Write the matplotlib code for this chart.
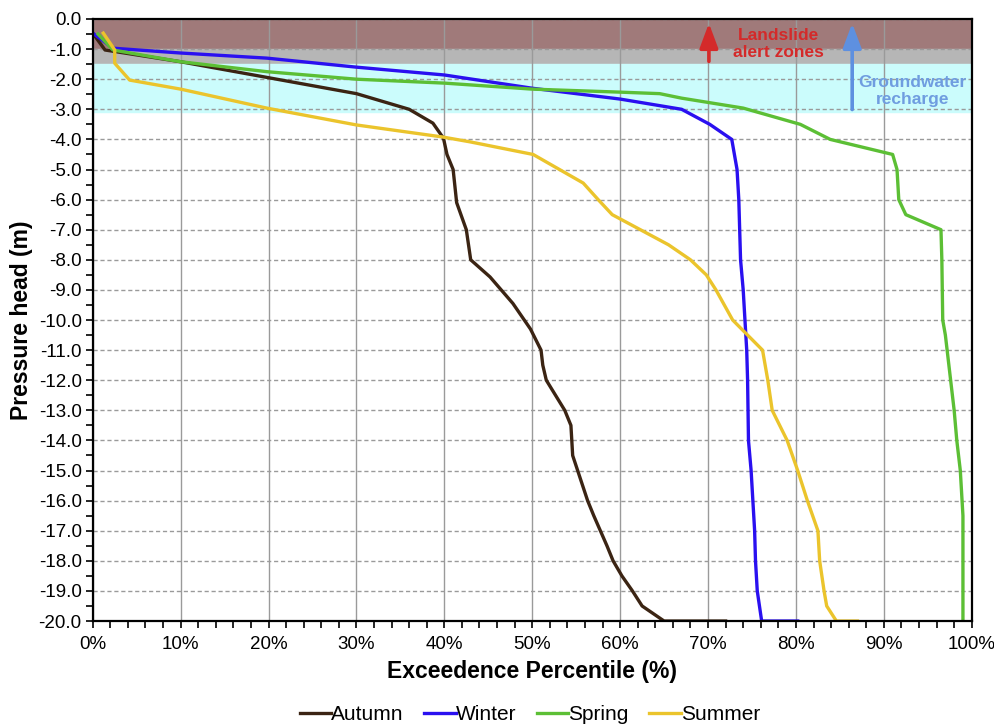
import matplotlib.pyplot as plt
from matplotlib.ticker import MultipleLocator, FuncFormatter

plt.rcParams['font.family'] = ['Liberation Sans', 'DejaVu Sans']

# exceedence percentile (%) vs pressure head (m)
autumn_x = [0.0, 1.4, 10.0, 19.8, 30.0, 36.0, 38.7, 39.9, 40.3, 41.0, 41.4, 42.5, 43.0,
            45.2, 47.8, 49.8, 51.0, 51.2, 51.6, 53.7, 54.4, 54.6, 56.3, 57.0, 58.5, 59.2,
            60.2, 61.4, 62.5, 65.0, 72.0]
autumn_y = [-0.47, -1.03, -1.42, -1.94, -2.48, -3.0, -3.46, -3.96, -4.5, -5.0, -6.1, -7.0,
            -8.0, -8.57, -9.45, -10.3, -11.0, -11.5, -12.0, -13.0, -13.5, -14.5, -16.0,
            -16.5, -17.5, -18.0, -18.5, -19.0, -19.5, -20.0, -20.0]

winter_x = [0.0, 2.3, 10.0, 19.8, 30.0, 40.0, 50.0, 60.0, 67.0, 70.2, 72.7, 73.3, 73.5,
            73.7, 74.0, 74.2, 74.4, 74.5, 74.6, 74.9, 75.1, 75.3, 75.4, 75.6, 76.1, 80.2]
winter_y = [-0.47, -0.97, -1.13, -1.3, -1.6, -1.86, -2.3, -2.66, -3.0, -3.5, -4.0, -5.0,
            -6.0, -8.0, -9.0, -10.0, -11.0, -12.0, -14.0, -15.0, -16.0, -17.0, -18.0,
            -19.0, -20.0, -20.0]

spring_x = [0.6, 2.3, 10.0, 19.8, 30.0, 40.0, 50.0, 60.0, 64.5, 67.0, 74.0, 80.5, 83.9,
            91.0, 91.5, 91.7, 92.5, 96.5, 96.6, 96.7, 97.0, 97.4, 97.8, 98.0, 98.3, 98.7,
            99.0, 99.0]
spring_y = [-0.5, -1.03, -1.42, -1.75, -2.0, -2.13, -2.33, -2.43, -2.48, -2.63, -2.96,
            -3.5, -4.0, -4.5, -5.0, -6.0, -6.5, -7.0, -8.0, -10.0, -10.5, -11.5, -12.5,
            -13.0, -14.0, -15.0, -16.5, -20.0]

summer_x = [1.2, 2.5, 2.5, 4.2, 10.0, 19.8, 30.0, 39.8, 42.9, 50.1, 55.8, 57.5, 59.1,
            62.3, 65.5, 68.0, 69.8, 70.9, 72.8, 74.5, 76.2, 76.5, 76.8, 77.3, 79.0, 80.2,
            81.3, 82.5, 82.7, 83.2, 83.5, 84.6, 87.0]
summer_y = [-0.47, -1.03, -1.47, -2.03, -2.33, -2.96, -3.52, -3.92, -4.08, -4.5, -5.45,
            -6.0, -6.5, -7.0, -7.5, -8.0, -8.5, -9.0, -10.0, -10.5, -11.0, -11.5, -12.0,
            -13.0, -14.0, -15.0, -16.0, -17.0, -18.0, -19.0, -19.5, -20.0, -20.0]

series = [
    ('Autumn', autumn_x, autumn_y, '#3b2413'),
    ('Winter', winter_x, winter_y, '#2a10f0'),
    ('Spring', spring_x, spring_y, '#5cbf35'),
    ('Summer', summer_x, summer_y, '#ebc42c'),
]

fig = plt.figure(figsize=(9.94, 7.25), dpi=100)
ax = fig.add_axes([0.0933, 0.1434, 0.8843, 0.8304])

# shaded zones
ax.axhspan(-1.0, 0.0, color='#a07a7a', zorder=0)
ax.axhspan(-1.5, -1.0, color='#b6b6b6', zorder=0)
ax.axhspan(-3.1, -1.5, color='#cbfcfc', zorder=0)

for name, xs, ys, col in series:
    ax.plot(xs, ys, color=col, lw=2.4, label=name, zorder=3)

# arrows and labels
ax.annotate('', xy=(70.1, -0.05), xytext=(70.1, -1.5),
            arrowprops=dict(arrowstyle='-|>,head_length=0.75,head_width=0.28',
                            color='#d42a2a', lw=2.6, mutation_scale=20),
            zorder=4)
ax.text(78.0, -0.82, 'Landslide\nalert zones', color='#d42a2a', fontsize=12.5,
        fontweight='bold', ha='center', va='center', linespacing=1.15, zorder=4)
ax.annotate('', xy=(86.4, -0.05), xytext=(86.4, -3.1),
            arrowprops=dict(arrowstyle='-|>,head_length=0.75,head_width=0.28',
                            color='#5e90e0', lw=2.6, mutation_scale=20),
            zorder=4)
ax.text(93.3, -2.4, 'Groundwater\nrecharge', color='#6f9de0', fontsize=12.5,
        fontweight='bold', ha='center', va='center', linespacing=1.15, zorder=4)

ax.set_xlim(0, 100)
ax.set_ylim(-20, 0)
ax.xaxis.set_major_locator(MultipleLocator(10))
ax.xaxis.set_minor_locator(MultipleLocator(2))
ax.yaxis.set_major_locator(MultipleLocator(1))
ax.yaxis.set_minor_locator(MultipleLocator(0.5))
ax.xaxis.set_major_formatter(FuncFormatter(lambda v, p: '{:.0f}%'.format(v)))
ax.yaxis.set_major_formatter(FuncFormatter(lambda v, p: '{:.1f}'.format(v)))
ax.tick_params(which='both', direction='out', length=5, width=1.2, labelsize=13.5,
               color='black', pad=3)
ax.tick_params(axis='x', pad=6)

ax.grid(axis='x', which='major', color='#9a9a9a', lw=1.0, ls='-', zorder=1)
ax.grid(axis='y', which='major', color='#9a9a9a', lw=1.0, ls=(0, (3, 2)), zorder=1)
ax.set_axisbelow(True)
for sp in ax.spines.values():
    sp.set_linewidth(1.6)
    sp.set_zorder(5)

ax.set_xlabel('Exceedence Percentile (%)', fontsize=16.5, fontweight='bold', labelpad=5)
ax.set_ylabel('Pressure head (m)', fontsize=16.5, fontweight='bold', labelpad=4)

fig.legend(loc='lower center', bbox_to_anchor=(0.533, -0.025), ncol=4, frameon=False,
           fontsize=15, handlelength=1.5, handletextpad=0.0, columnspacing=1.0)

fig.savefig('out.png', dpi=100)
